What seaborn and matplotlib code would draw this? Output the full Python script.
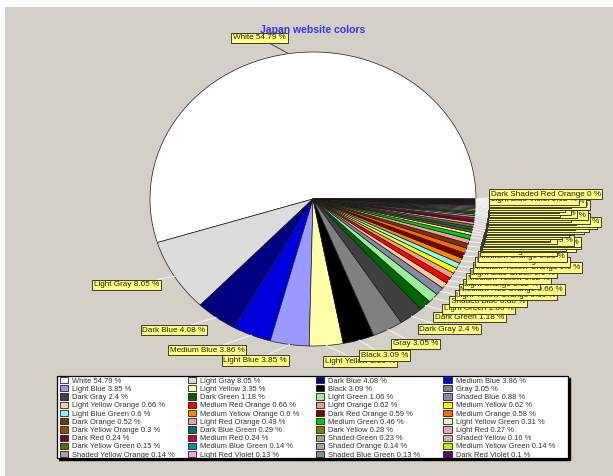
import numpy as np
import matplotlib
matplotlib.use("Agg")
import matplotlib.pyplot as plt
import seaborn as sns
from matplotlib.patches import Patch, Rectangle

title = "Japan website colors"

names = [
    "White", "Light Gray", "Dark Blue", "Medium Blue",
    "Light Blue", "Light Yellow", "Black", "Gray",
    "Dark Gray", "Dark Green", "Light Green", "Shaded Blue",
    "Light Yellow Orange", "Medium Red Orange", "Light Orange", "Medium Yellow",
    "Light Blue Green", "Medium Yellow Orange", "Dark Red Orange", "Medium Orange",
    "Dark Orange", "Light Red Orange", "Medium Green", "Light Yellow Green",
    "Dark Yellow Orange", "Dark Blue Green", "Dark Yellow", "Light Red",
    "Dark Red", "Medium Red", "Shaded Green", "Shaded Yellow",
    "Dark Yellow Green", "Medium Blue Green", "Shaded Orange", "Medium Yellow Green",
    "Shaded Yellow Orange", "Light Red Violet", "Shaded Blue Green", "Dark Red Violet",
    "Medium Red Violet", "Dark Blue Violet", "Light Violet", "Medium Violet",
    "Dark Violet", "Shaded Red", "Medium Blue Violet", "Shaded Violet",
    "Dark Shaded Blue", "Light Blue Violet", "Dark Shaded Red Orange",
]

values = [
    54.79, 8.05, 4.08, 3.86,
    3.85, 3.35, 3.09, 3.05,
    2.4, 1.18, 1.06, 0.88,
    0.66, 0.66, 0.62, 0.62,
    0.6, 0.6, 0.59, 0.58,
    0.52, 0.49, 0.46, 0.31,
    0.3, 0.29, 0.28, 0.27,
    0.24, 0.24, 0.23, 0.16,
    0.15, 0.14, 0.14, 0.14,
    0.14, 0.13, 0.13, 0.1,
    0.09, 0.08, 0.08, 0.07,
    0.06, 0.06, 0.05, 0.04,
    0.02, 0.02, 0.0,
]

colors = [
    "#ffffff", "#dcdcdc", "#000080", "#0000dd",
    "#9999ff", "#ffffaa", "#000000", "#808080",
    "#404040", "#006400", "#99f099", "#8888aa",
    "#ffcc99", "#ff0000", "#f0a080", "#ffff00",
    "#88ffff", "#ff8800", "#7a0000", "#ff6600",
    "#7f3300", "#f0a0a0", "#00cc00", "#e8f8b0",
    "#8a5000", "#007070", "#808000", "#f4a0b8",
    "#7a0030", "#cc0033", "#90a890", "#c0c0a0",
    "#5a7000", "#009999", "#b0a098", "#c8f000",
    "#b89898", "#ff99ff", "#7a9090", "#600070",
    "#404040", "#303040", "#505050", "#606040",
    "#202020", "#707050", "#303030", "#505060",
    "#202030", "#101010", "#000000",
]

n_legend = 40

sns.set_theme(style="white")
plt.rcParams["font.family"] = ["Liberation Sans", "DejaVu Sans"]

W, H = 613, 476
fig = plt.figure(figsize=(W / 100, H / 100), dpi=100)
fig.patch.set_facecolor("white")
fig.patches.append(Rectangle((5 / W, 0), 1, (H - 7) / H, transform=fig.transFigure,
                             facecolor="#d4d0c8", edgecolor="none", zorder=-10))

# pie geometry (pixels)
cx, cy, rx, ry = 313, 199, 163, 147
ax = fig.add_axes([(cx - rx) / W, (H - cy - ry) / H, 2 * rx / W, 2 * ry / H])
palette = sns.color_palette(colors)
wedges, _ = ax.pie(values, colors=palette, startangle=0, counterclock=True,
                   wedgeprops=dict(edgecolor="#1a1a1a", linewidth=0.5))
ax.set_aspect("auto")
ax.set_xlim(-1, 1)
ax.set_ylim(-1, 1)
ax.axis("off")

ax.text(cx / W, 1 - 30 / H, title, transform=fig.transFigure, ha="center", va="center",
        color="#3333ee", fontsize=7.5, fontweight="bold", zorder=3)

# label positions
r_lab = 1.11
gap = 1.7 / ry
mids = [np.deg2rad((w.theta1 + w.theta2) / 2) for w in wedges]
pos = [[r_lab * np.cos(t), r_lab * np.sin(t)] for t in mids]
prev = None
for i in reversed(range(len(wedges))):
    x, y = pos[i]
    if x <= 0:
        break
    if prev is None:
        y = y + 5.0 / ry
    elif y > prev - gap:
        y = prev - gap
    x = r_lab * np.sqrt(max(0.0, 1 - (y / r_lab) ** 2)) - 3.0 / rx
    pos[i] = [x, y]
    prev = y if i < len(wedges) - 1 else y - 4.0 / ry

for i, (t, w) in enumerate(zip(mids, wedges)):
    x, y = pos[i]
    ha = "left" if x > 0 else "right"
    lead = "#555555" if i == 0 else "#f2f2f2"
    ax.annotate(f"{names[i]} {values[i]:g} %", xy=(np.cos(t), np.sin(t)), xytext=(x, y),
                ha=ha, va="center", fontsize=5.9, color="#202020",
                bbox=dict(boxstyle="square,pad=0.2", fc="#ffff80", ec="#202020", lw=0.6),
                arrowprops=dict(arrowstyle="-", color=lead, lw=0.8, shrinkA=0, shrinkB=0),
                annotation_clip=False, zorder=5 + i)

# legend: framed box with shadow, 4 columns filled row by row
lx0, ly0, lx1, ly1 = 57, 376, 568, 458
fig.patches.append(Rectangle(((lx0 + 2) / W, 1 - (ly1 + 2) / H), (lx1 - lx0) / W, (ly1 - ly0) / H,
                             transform=fig.transFigure, facecolor="black", edgecolor="black",
                             zorder=4))
fig.patches.append(Rectangle((lx0 / W, 1 - ly1 / H), (lx1 - lx0) / W, (ly1 - ly0) / H,
                             transform=fig.transFigure, facecolor="white", edgecolor="black",
                             linewidth=0.9, zorder=4.5))
ncol = 4
col_w = (lx1 - lx0) / ncol
for c in range(ncol):
    idx = list(range(c, n_legend, ncol))
    hs = [Patch(facecolor=colors[i], edgecolor="#202020", linewidth=0.6,
                label=f"{names[i]} {values[i]:g} %") for i in idx]
    fig.legend(handles=hs, loc="upper left",
               bbox_to_anchor=((lx0 + 3 + c * col_w) / W, 1 - (ly0 + 1) / H),
               frameon=False, fontsize=5.4, labelspacing=0.07, handlelength=1.1,
               handleheight=0.9, handletextpad=0.55, borderpad=0, borderaxespad=0,
               labelcolor="#303030").set_zorder(5)

fig.savefig("out.png", dpi=100, facecolor=fig.get_facecolor())
